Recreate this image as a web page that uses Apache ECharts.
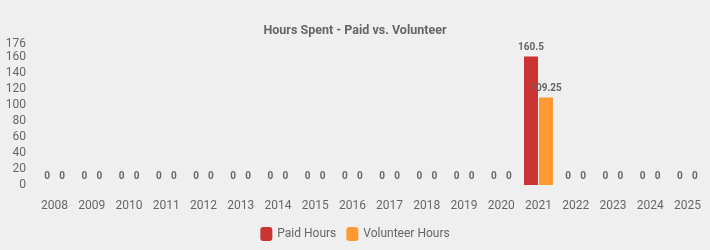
<!DOCTYPE html>
<html>
<head>
<meta charset="utf-8">
<script src="https://cdn.jsdelivr.net/npm/echarts@6/dist/echarts.min.js"></script>
<style>html,body{margin:0;padding:0;background:#efefef;}#c{width:710px;height:250px;}</style>
</head>
<body>
<div id="c"></div>
<script>
const years = ['2008','2009','2010','2011','2012','2013','2014','2015','2016','2017','2018','2019','2020','2021','2022','2023','2024','2025'];
const paidHours = [0,0,0,0,0,0,0,0,0,0,0,0,0,160.5,0,0,0,0];
const volunteerHours = [0,0,0,0,0,0,0,0,0,0,0,0,0,109.25,0,0,0,0];
const seriesNames = ['Paid Hours','Volunteer Hours'];

const chart = echarts.init(document.getElementById('c'));
const lbl = {show:true, position:'top', color:'#666', fontWeight:'bold', fontSize:10, fontFamily:'Roboto', distance:4};
chart.setOption({
  backgroundColor:'#efefef',
  animation:false,
  title:{text:'Hours Spent - Paid vs. Volunteer', left:'center', top:19,
    textStyle:{color:'#666', fontSize:12.5, fontWeight:'bold', fontFamily:'Roboto'}},
  legend:{data:seriesNames, bottom:4, itemWidth:12, itemHeight:14, itemGap:10,
    textStyle:{color:'#666', fontSize:12, fontFamily:'Roboto'}},
  grid:{left:36, right:4, top:44, bottom:65},
  xAxis:{type:'category', data:years, axisLine:{show:false}, axisTick:{show:false},
    axisLabel:{color:'#666', fontSize:12, fontFamily:'Roboto', margin:15}},
  yAxis:{type:'value', min:0, max:176, interval:20, splitLine:{show:false},
    axisLine:{show:false}, axisTick:{show:false},
    axisLabel:{color:'#666', fontSize:12, fontFamily:'Roboto', margin:10}},
  series:[
    {name:seriesNames[0], type:'bar', data:paidHours, itemStyle:{color:'#cc3333'}, barWidth:14, barGap:'7%', label:lbl},
    {name:seriesNames[1], type:'bar', data:volunteerHours, itemStyle:{color:'#ff9933'}, barWidth:14, label:lbl}
  ]
});
</script>
</body>
</html>
